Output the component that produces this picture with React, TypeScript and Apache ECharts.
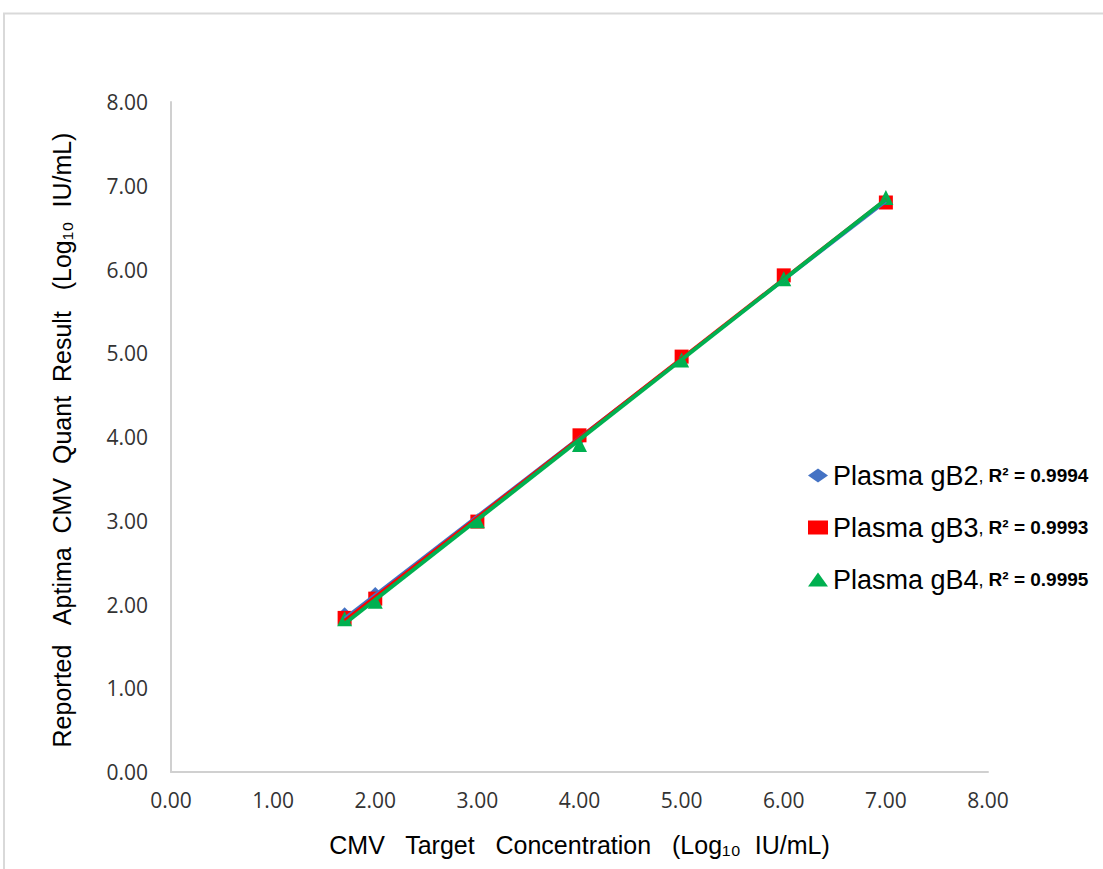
import React, { useEffect, useRef } from "react";
import * as echarts from "echarts";

// X: CMV target concentration (Log10 IU/mL)
const xValues = [1.7, 2.0, 3.0, 4.0, 5.0, 6.0, 7.0];
// Y: reported Aptima CMV Quant result (Log10 IU/mL)
const gB2Values = [1.89, 2.13, 2.99, 3.97, 4.93, 5.9, 6.82];
const gB3Values = [1.84, 2.07, 2.99, 4.02, 4.96, 5.93, 6.8];
const gB4Values = [1.83, 2.04, 3.0, 3.91, 4.92, 5.89, 6.86];

const seriesNames = ["Plasma gB2", "Plasma gB3", "Plasma gB4"];
const r2Labels = ["R² = 0.9994", "R² = 0.9993", "R² = 0.9995"];
const seriesColors = ["#4472C4", "#FF0000", "#00B050"];
const seriesSymbols = ["diamond", "rect", "triangle"];
const axisMin = 0;
const axisMax = 8;
const axisInterval = 1;

const xTitle = "CMV   Target   Concentration   (Log₁₀  IU/mL)";
const yTitle = "Reported   Aptima  CMV  Quant  Result   (Log₁₀  IU/mL)";

function linearFit(xs: number[], ys: number[]) {
  const n = xs.length;
  const mx = xs.reduce((a, b) => a + b, 0) / n;
  const my = ys.reduce((a, b) => a + b, 0) / n;
  let sxy = 0;
  let sxx = 0;
  for (let i = 0; i < n; i++) {
    sxy += (xs[i] - mx) * (ys[i] - my);
    sxx += (xs[i] - mx) * (xs[i] - mx);
  }
  const slope = sxy / sxx;
  const intercept = my - slope * mx;
  return (x: number) => slope * x + intercept;
}

export default function App() {
  const ref = useRef<HTMLDivElement>(null);

  useEffect(() => {
    if (!ref.current) return;
    const chart = echarts.init(ref.current, undefined, { renderer: "svg" });
    const allValues = [gB2Values, gB3Values, gB4Values];
    const xMinData = Math.min(...xValues);
    const xMaxData = Math.max(...xValues);

    const scatterSeries = allValues.map((vals, i) => ({
      name: seriesNames[i],
      type: "scatter",
      symbol: seriesSymbols[i],
      symbolSize: i === 0 ? 13 : i === 1 ? 14 : 15,
      itemStyle: { color: seriesColors[i], opacity: 1 },
      z: 2,
      data: xValues.map((x, j) => [x, vals[j]]),
    }));

    const lineSeries = allValues.map((vals, i) => {
      const f = linearFit(xValues, vals);
      return {
        name: seriesNames[i] + " trend",
        type: "line",
        showSymbol: false,
        symbol: "none",
        silent: true,
        z: 3 + i,
        lineStyle: { color: seriesColors[i], width: i === 2 ? 4 : 3, opacity: 1 },
        data: [
          [xMinData, f(xMinData)],
          [xMaxData, f(xMaxData)],
        ],
      };
    });

    const tickLabel = {
      fontFamily: "Open Sans",
      fontSize: 21,
      color: "#333333",
      formatter: (v: number) => v.toFixed(2),
    };

    chart.setOption({
      animation: false,
      backgroundColor: "#ffffff",
      graphic: [
        {
          type: "rect",
          shape: { x: 4, y: 13.5, width: 1300, height: 1000 },
          style: { fill: "none", stroke: "#d9d9d9", lineWidth: 2 },
          z: -1,
        },
        {
          type: "text",
          x: 62,
          y: 440,
          rotation: Math.PI / 2,
          style: {
            text: yTitle,
            fontFamily: "Liberation Sans",
            fontSize: 25,
            fill: "#000",
            align: "center",
            verticalAlign: "middle",
          },
        },
      ],
      grid: { left: 171, top: 102, right: 115, bottom: 97, containLabel: false },
      legend: {
        data: seriesNames.map((n, i) => ({ name: n, icon: seriesSymbols[i] })),
        orient: "vertical",
        left: 803,
        top: 457,
        itemWidth: 20,
        itemHeight: 14,
        itemGap: 25,
        formatter: (name: string) => {
          const i = seriesNames.indexOf(name);
          return `{n|${name}}{c|, }{r|${r2Labels[i]}}`;
        },
        textStyle: {
          rich: {
            n: { fontFamily: "Liberation Sans", fontSize: 27, color: "#000", lineHeight: 26 },
            c: { fontFamily: "Liberation Sans", fontSize: 18, color: "#000", lineHeight: 26 },
            r: {
              fontFamily: "Liberation Sans",
              fontSize: 19,
              fontWeight: "bold",
              color: "#000",
              lineHeight: 26,
            },
          },
        },
      },
      xAxis: {
        type: "value",
        min: axisMin,
        max: axisMax,
        interval: axisInterval,
        name: xTitle,
        nameLocation: "middle",
        nameGap: 60,
        nameTextStyle: { fontFamily: "Liberation Sans", fontSize: 25, color: "#000" },
        axisLine: { show: true, lineStyle: { color: "#d0d0d0", width: 2 } },
        axisTick: { show: false },
        splitLine: { show: false },
        axisLabel: { ...tickLabel, margin: 17 },
      },
      yAxis: {
        type: "value",
        min: axisMin,
        max: axisMax,
        interval: axisInterval,
        axisLine: { show: true, lineStyle: { color: "#d0d0d0", width: 2 } },
        axisTick: { show: false },
        splitLine: { show: false },
        axisLabel: { ...tickLabel, margin: 23 },
      },
      series: [...scatterSeries, ...lineSeries],
    });

    return () => chart.dispose();
  }, []);

  return (
    <div
      ref={ref}
      style={{ position: "fixed", left: 0, top: 0, width: 1103, height: 869 }}
    />
  );
}
